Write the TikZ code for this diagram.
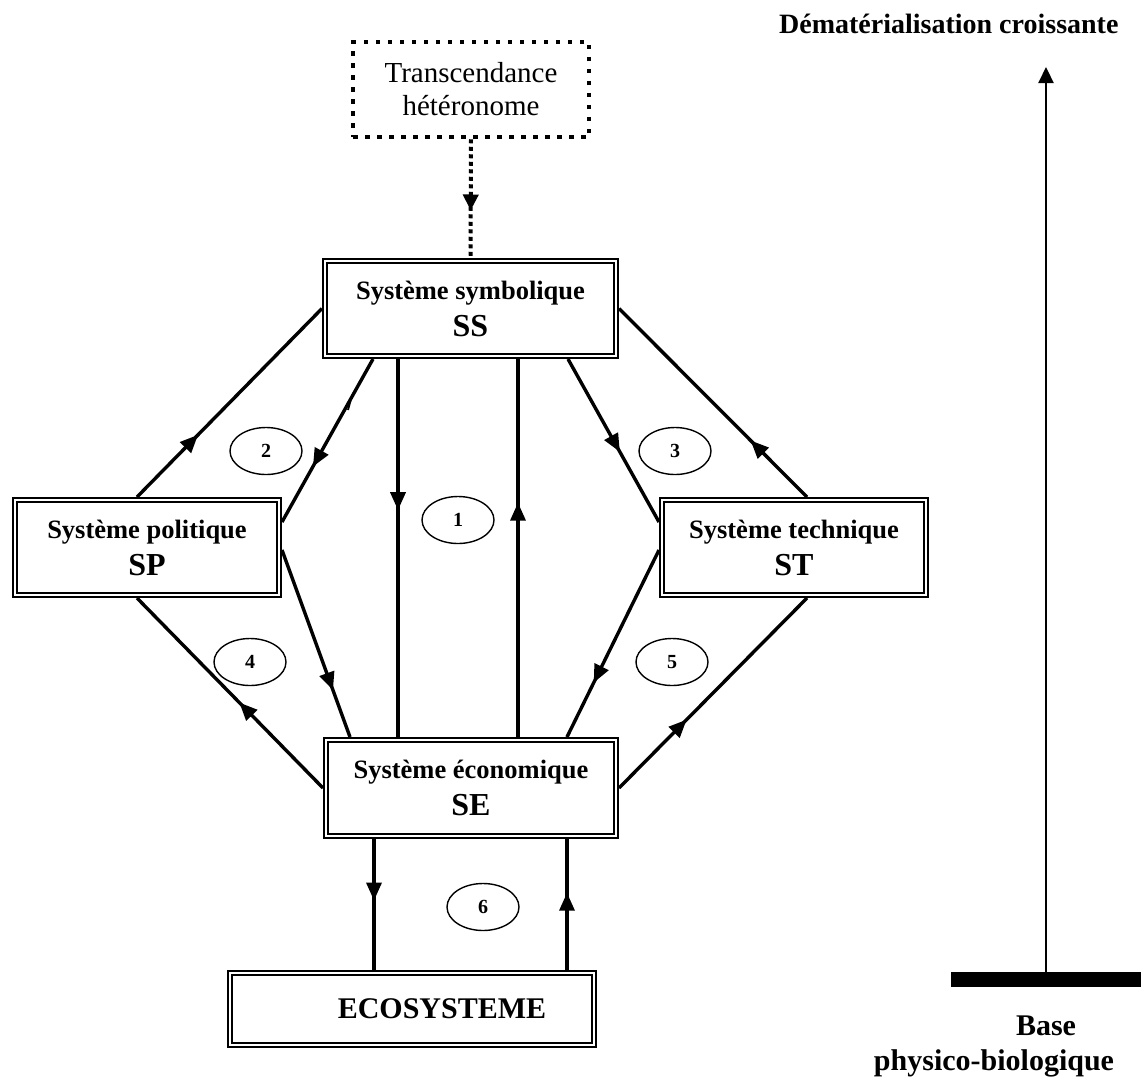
\documentclass[tikz,border=0pt]{standalone}
\usepackage{fontspec}
\setmainfont{Liberation Serif}
\usetikzlibrary{arrows.meta}
\usetikzlibrary{shapes.geometric}
\usetikzlibrary{decorations.markings}

\begin{document}
\begin{tikzpicture}[x=1pt,y=-1pt]
  \tikzset{systeme/.style = {shape=rectangle,draw,double,double distance=2.6pt,line width=1.8pt,
      outer sep=3pt,inner sep=0pt,align=center,font=\bfseries\fontsize{26.5}{37}\selectfont}}
  \tikzset{bulle/.style = {shape=ellipse,draw,line width=1.4pt,minimum width=72pt,
      minimum height=47pt,inner sep=0pt,font=\bfseries\fontsize{20}{20}\selectfont}}
  \tikzset{flux/.style = {line width=3.4pt,postaction={decorate},
      decoration={markings,mark=at position #1 with {\arrow{Triangle[length=18pt,width=15pt]}}}}}
  \useasboundingbox (0,0) rectangle (1141,1077);

  % les systemes
  \node[draw,line width=4.5pt,dash pattern=on 4.5pt off 7.5pt,minimum width=236pt,minimum height=95pt,
    outer sep=2.25pt,align=center,font=\fontsize{29}{33}\selectfont] (TH) at (471,89.5)
    {Transcendance\\hétéronome};
  \node[systeme,minimum width=291pt,minimum height=95pt] (SS) at (470.5,308.5)
    {Système symbolique\\\fontsize{32}{37}\selectfont SS};
  \node[systeme,minimum width=264pt,minimum height=95pt] (SP) at (147,547.5)
    {Système politique\\\fontsize{32}{37}\selectfont SP};
  \node[systeme,minimum width=264pt,minimum height=95pt] (ST) at (794,547.5)
    {Système technique\\\fontsize{32}{37}\selectfont ST};
  \node[systeme,minimum width=290pt,minimum height=96pt] (SE) at (471,788)
    {Système économique\\\fontsize{32}{37}\selectfont SE};
  \node[systeme,minimum width=364pt,minimum height=72pt,font=\bfseries\fontsize{30}{36}\selectfont] (ECO) at (412,1009)
    {\hspace*{60pt}ECOSYSTEME};

  \foreach \nom/\px/\py in {1/458/520, 2/266/451, 3/675/451, 4/250/662, 5/672/662, 6/483/907}
    \node[bulle] (b\nom) at (\px,\py) {\nom};

  % flux entre systemes
  \draw[line width=4pt,dash pattern=on 4pt off 3.5pt,postaction={decorate},
    decoration={markings,mark=at position 0.6 with {\arrow{Triangle[length=16pt,width=15pt]}}}]
    (TH.south) -- (SS.north);
  \draw[flux=0.33] ([xshift=-10pt]SP.north) -- (SS.west);
  \draw[flux=0.66] ([xshift=51pt]SS.south west) -- ([yshift=25.5pt]SP.east);
  \draw[line width=1.8pt] ([xshift=26pt,yshift=-51pt]SS.south west) -- ++(2.5pt,9pt);
  \draw[flux=0.57] ([xshift=-51pt]SS.south east) -- ([yshift=25.5pt]ST.west);
  \draw[flux=0.3] ([xshift=13pt]ST.north) -- (SS.east);
  \draw[flux=0.4] ([xshift=76pt]SS.south west) -- ([xshift=75pt]SE.north west);
  \draw[flux=0.62] ([xshift=-101pt]SE.north east) -- ([xshift=-101pt]SS.south east);
  \draw[flux=0.75] ([yshift=-2.5pt]SP.east) -- ([xshift=27pt]SE.north west);
  \draw[flux=0.45] (SE.west) -- ([xshift=-10pt]SP.south);
  \draw[flux=0.71] ([yshift=-2.5pt]ST.west) -- ([xshift=-52pt]SE.north east);
  \draw[flux=0.36] (SE.east) -- ([xshift=13pt]ST.south);
  \draw[flux=0.47] ([xshift=51pt]SE.south west) -- ([xshift=147pt]ECO.north west);
  \draw[flux=0.59] ([xshift=340pt]ECO.north west) -- ([xshift=-52pt]SE.south east);

  % axe de dematerialisation
  \node[fill,minimum width=190pt,minimum height=15pt,inner sep=0pt] (socle) at (1046,979.5) {};
  \coordinate (sommet) at (1046,67);
  \draw[line width=2.2pt,-{Triangle[length=16pt,width=15pt]}] (socle.north) -- (sommet);
  \node[anchor=base east,font=\bfseries\fontsize{28}{33}\selectfont] (titre) at (1122,33)
    {Dématérialisation croissante};
  \node[anchor=base,font=\bfseries\fontsize{30}{34}\selectfont] (base) at (1046,1035) {Base};
  \node[anchor=base,font=\bfseries\fontsize{30}{34}\selectfont] (physico) at (994,1070) {physico-biologique};
\end{tikzpicture}
\end{document}
